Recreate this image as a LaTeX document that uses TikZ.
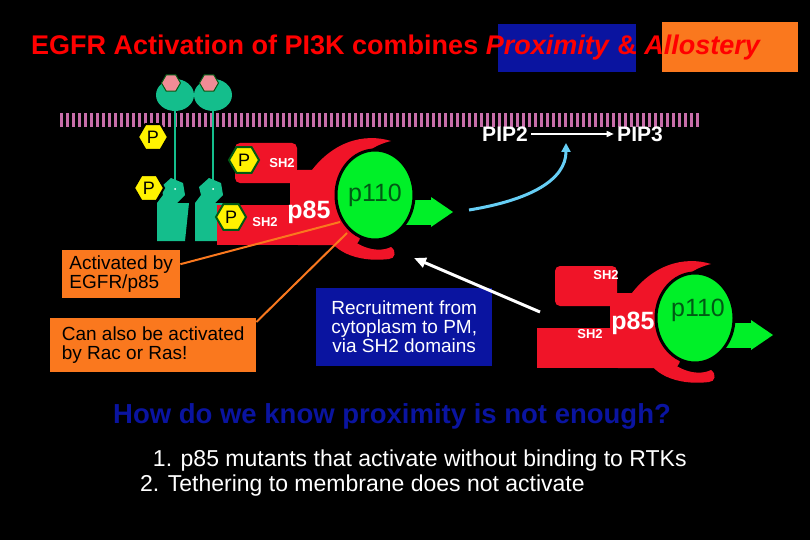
\documentclass[tikz,border=0pt]{standalone}
\usepackage{fontspec}
\setmainfont{Liberation Sans}
\usetikzlibrary{shapes.geometric,arrows.meta}
\definecolor{teal1}{RGB}{20,190,140}
\definecolor{pinkhx}{RGB}{240,140,150}
\definecolor{redp}{RGB}{240,20,40}
\definecolor{greenp}{RGB}{0,240,40}
\definecolor{darkg}{RGB}{0,90,20}
\definecolor{boxorange}{RGB}{250,120,30}
\definecolor{boxblue}{RGB}{10,20,160}
\definecolor{memb}{RGB}{200,110,170}
\tikzset{
  fsz/.style={font=\fontsize{#1}{#1}\selectfont},
  phos/.style={regular polygon,regular polygon sides=6,fill=yellow,draw=#1,line width=2pt,
    inner sep=0pt,minimum size=30pt,fsz=18},
  phos/.default=black,
  sh/.style={text=white,font=\fontsize{13}{13}\selectfont\bfseries},
  lbox/.style={fill=#1,text=black,align=left,fsz=19,inner sep=4pt},
  pics/receptor/.style={code={
    \draw[teal1,line width=1.5pt] (0,0) -- (0,85);
    \fill[teal1] (0,0) circle[x radius=19,y radius=16];
    \node[regular polygon,regular polygon sides=6,fill=pinkhx,draw=darkg,line width=1pt,
      minimum size=19pt,inner sep=0pt] at (-4,-12) {};
    \fill[teal1] (-14,92) -- (-4,83) -- (8,88) -- (10,100) -- (2,108) -- (14,108)
      -- (10,146) -- (-18,146) -- (-18,108) -- (-12,100) -- cycle;
    \fill[white] (0,94) circle[radius=1];
  }},
  pics/pithreek/.style={code={
    \fill[redp,rounded corners=5] (-140,-52) rectangle (-78,-12);
    \fill[redp] (-158,10) rectangle (-40,50);
    \fill[redp,rounded corners=8] (-85,-25) rectangle (-15,50);
    \fill[redp] (-70,-15) .. controls (-45,-55) and (-10,-62) .. (16,-54)
      .. controls (0,-50) and (-25,-40) .. (-30,5) -- (-60,20) -- cycle;
    \fill[redp] (-40,20) .. controls (-30,50) and (0,60) .. (16,52)
      .. controls (22,56) and (20,64) .. (14,64) .. controls (-20,68) and (-45,55) .. (-50,35) -- cycle;
    \fill[redp] (-40,-18) ellipse[x radius=18,y radius=24];
    \fill[greenp] (20,5) rectangle (58,30);
    \fill[greenp] (56,2) -- (78,17) -- (56,32) -- cycle;
    \draw[black,line width=3pt,fill=greenp] (0,0) ellipse[x radius=39,y radius=45];
  }}
}
\begin{document}
\begin{tikzpicture}[x=1pt,y=-1pt]
\fill[black] (0,0) rectangle (810,540);
\useasboundingbox (0,0) rectangle (810,540);

% title
\fill[boxblue] (498,24) rectangle (636,72);
\fill[boxorange] (662,22) rectangle (798,72);
\node[anchor=base west,text=red,font=\fontsize{27}{28}\selectfont\bfseries,inner sep=0pt] (title) at (31,55)
  {EGFR Activation of PI3K combines \textit{Proximity} \& \textit{Allostery}};

% membrane
\foreach \i in {0,...,106}
  \fill[memb] (60+\i*6,113) rectangle (63+\i*6,127);

% receptors
\pic at (175,95) {receptor};
\pic at (213,95) {receptor};

% PI3K complexes
\pic at (375,195) {pithreek};
\pic at (695,318) {pithreek};

\node[phos] (pa) at (153,137) {P};
\node[phos] (pb) at (149,188) {P};
\node[phos,draw=darkg] (pc) at (244,160) {P};
\node[phos,draw=darkg] (pd) at (231,217) {P};
\node[sh] (sha) at (282,163) {SH2};
\node[sh] (shb) at (265,222) {SH2};
\node[text=white,font=\fontsize{25}{25}\selectfont\bfseries] (pea) at (309,212) {p85};
\node[text=darkg,fsz=25] (pla) at (375,195) {p110};
\node[sh] (shc) at (606,275) {SH2};
\node[sh] (shd) at (590,334) {SH2};
\node[text=white,font=\fontsize{25}{25}\selectfont\bfseries] (peb) at (633,323) {p85};
\node[text=darkg,fsz=25] (plb) at (698,310) {p110};

% lipid conversion
\node[text=white,font=\fontsize{21}{21}\selectfont\bfseries] (pip2) at (505,134) {PIP2};
\node[text=white,font=\fontsize{21}{21}\selectfont\bfseries] (pip3) at (640,134) {PIP3};
\draw[white,line width=1.5pt,-{Triangle[length=7pt,width=6pt]}] (pip2) -- (pip3);
\coordinate (cyana) at (469,210);
\coordinate (cyanb) at (566,143);
\draw[cyan!60,line width=3pt,-{Triangle[length=9pt,width=9pt]}] (cyana) .. controls (530,200) and (566,180) .. (cyanb);

% boxes
\node[lbox=boxorange,anchor=north west,minimum width=118pt,minimum height=48pt] (act) at (62,250)
  {Activated by\\ EGFR/p85};
\node[lbox=boxorange,anchor=north west,minimum width=206pt,minimum height=54pt] (rac) at (50,318)
  {Can also be activated\\ by Rac or Ras!};
\node[lbox=boxblue,text=white,align=center,anchor=north west,minimum width=176pt,minimum height=78pt] (recr) at (316,288)
  {Recruitment from\\ cytoplasm to PM,\\ via SH2 domains};
\draw[boxorange,line width=2pt] (act.east) ++(0,-10) -- (340,222);
\draw[boxorange,line width=2pt] (rac.north east) ++(0,4) -- (347,233);
\coordinate (recrtip) at (414,258);
\draw[white,line width=3pt,-{Triangle[length=12pt,width=10pt]}] (540,312) -- (recrtip);

% question
\node[text=boxblue,font=\fontsize{27.5}{28}\selectfont\bfseries] (quest) at (392,416)
  {How do we know proximity is not enough?};
\node[text=white,fsz=23,align=left,anchor=north west,inner sep=0pt] (list) at (140,450)
  {\ \ 1. p85 mutants that activate without binding to RTKs\\[2pt] 2. Tethering to membrane does not activate};
\end{tikzpicture}
\end{document}
